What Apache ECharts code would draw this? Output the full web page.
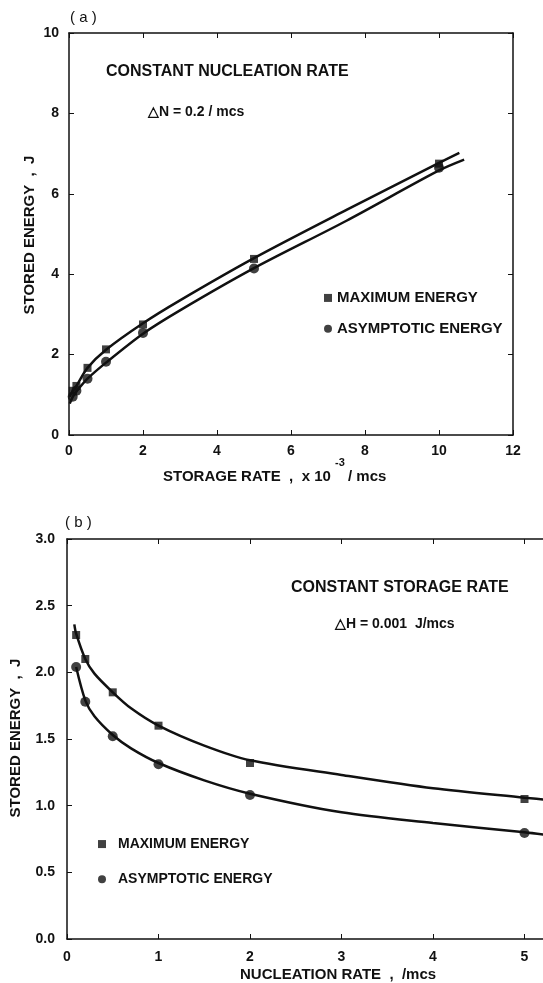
<html>
<head>
    <script src="https://cdn.jsdelivr.net/npm/echarts@6/dist/echarts.min.js"></script>
    <style>
        body { margin: 0; background: #fff; }
        #chart { width: 543px; height: 983px; }
    </style>
</head>
<body>
    <div id="chart"></div>
    <script>
        // (a) constant nucleation rate: measured points
        var rateA = [0.1, 0.2, 0.5, 1, 2, 5, 10];
        var maxA = [1.1, 1.22, 1.67, 2.13, 2.75, 4.38, 6.75];
        var asymA = [0.95, 1.1, 1.4, 1.82, 2.54, 4.14, 6.65];
        // (a) fitted curves
        var curveMaxAX = [0.02, 0.1, 0.2, 0.5, 1, 2, 3, 5, 7.5, 10, 10.55];
        var curveMaxAY = [0.95, 1.1, 1.22, 1.67, 2.12, 2.78, 3.35, 4.4, 5.6, 6.77, 7.02];
        var curveAsymAX = [0.02, 0.1, 0.2, 0.5, 1, 2, 3, 5, 7.5, 10, 10.68];
        var curveAsymAY = [0.78, 0.95, 1.08, 1.4, 1.8, 2.52, 3.1, 4.15, 5.33, 6.58, 6.85];

        // (b) constant storage rate: measured points
        var rateB = [0.1, 0.2, 0.5, 1, 2, 5];
        var maxB = [2.28, 2.1, 1.85, 1.6, 1.32, 1.05];
        var asymB = [2.04, 1.78, 1.52, 1.31, 1.08, 0.795];
        // (b) fitted curves
        var curveMaxBX = [0.08, 0.1, 0.2, 0.3, 0.5, 0.7, 1, 1.5, 2, 3, 4, 5, 5.3];
        var curveMaxBY = [2.36, 2.29, 2.1, 1.99, 1.85, 1.73, 1.6, 1.45, 1.34, 1.23, 1.13, 1.06, 1.04];
        var curveAsymBX = [0.1, 0.2, 0.3, 0.5, 0.7, 1, 1.5, 2, 3, 4, 5, 5.3];
        var curveAsymBY = [2.04, 1.79, 1.67, 1.53, 1.43, 1.32, 1.19, 1.09, 0.95, 0.87, 0.8, 0.775];

        var ticksA_X = [0, 12, 2];
        var ticksA_Y = [0, 10, 2];
        var ticksB_X = [0, 6, 1];
        var ticksB_Y = [0, 3, 0.5];

        function pairs(xs, ys) {
            return xs.map(function (x, i) { return [x, ys[i]]; });
        }

        var ink = '#111';
        var fontFam = '"Liberation Sans", Arial, sans-serif';

        function axisX(grid, t, pos, labels, margin) {
            return {
                type: 'value', gridIndex: grid, position: pos,
                min: t[0], max: t[1], interval: t[2],
                axisLine: { onZero: false, lineStyle: { color: ink, width: 1.5 } },
                axisTick: { show: true, inside: true, length: 5, lineStyle: { color: ink } },
                axisLabel: { show: labels, color: ink, fontFamily: fontFam, fontWeight: 'bold', fontSize: 14, margin: margin },
                splitLine: { show: false }
            };
        }
        function axisY(grid, t, pos, labels, margin, fmt) {
            return {
                type: 'value', gridIndex: grid, position: pos,
                min: t[0], max: t[1], interval: t[2],
                axisLine: { show: true, onZero: false, lineStyle: { color: ink, width: 1.5 } },
                axisTick: { show: true, inside: true, length: 5, lineStyle: { color: ink } },
                axisLabel: { show: labels, color: ink, fontFamily: fontFam, fontWeight: 'bold', fontSize: 14, margin: margin, formatter: fmt },
                splitLine: { show: false }
            };
        }
        function curve(x, y, xi, yi) {
            return {
                type: 'line', xAxisIndex: xi, yAxisIndex: yi, data: pairs(x, y),
                smooth: 0.3, showSymbol: false, silent: true,
                lineStyle: { color: ink, width: 2.5 }
            };
        }
        function dots(name, sym, size, x, y, xi, yi) {
            return {
                name: name, type: 'scatter', xAxisIndex: xi, yAxisIndex: yi,
                symbol: sym, symbolSize: size, data: pairs(x, y),
                itemStyle: { color: ink }
            };
        }
        function txt(x, y, s, size, weight, align, rot) {
            return {
                type: 'text', x: x, y: y, rotation: rot || 0,
                style: { text: s, fill: ink, font: (weight || 'bold') + ' ' + size + 'px ' + fontFam, align: align || 'left', verticalAlign: 'middle' }
            };
        }

        var myChart = echarts.init(document.getElementById('chart'));
        var option = {
            animation: false,
            grid: [
                { left: 69, top: 33, width: 444, height: 402, containLabel: false, outerBoundsMode: 'none' },
                { left: 67, top: 539, width: 549, height: 400, containLabel: false, outerBoundsMode: 'none' }
            ],
            xAxis: [
                axisX(0, ticksA_X, 'bottom', true, 4),
                axisX(0, ticksA_X, 'top', false, 4),
                axisX(1, ticksB_X, 'bottom', true, 6),
                axisX(1, ticksB_X, 'top', false, 6)
            ],
            yAxis: [
                axisY(0, ticksA_Y, 'left', true, 10),
                axisY(0, ticksA_Y, 'right', false, 10),
                axisY(1, ticksB_Y, 'left', true, 12, function (v) { return v.toFixed(1); }),
                axisY(1, ticksB_Y, 'right', false, 12)
            ],
            legend: [
                {
                    left: 324, top: 285, orient: 'vertical', itemWidth: 8, itemHeight: 8, itemGap: 5, padding: 0,
                    selectedMode: false,
                    data: [{ name: 'MAXIMUM ENERGY', icon: 'rect' }, { name: 'ASYMPTOTIC ENERGY', icon: 'circle' }],
                    textStyle: { color: ink, fontFamily: fontFam, fontWeight: 'bold', fontSize: 15 }
                },
                {
                    left: 98, top: 832, orient: 'vertical', itemWidth: 8, itemHeight: 8, itemGap: 11, padding: 0,
                    selectedMode: false,
                    data: [{ name: 'MAXIMUM ENERGY', icon: 'rect' }, { name: 'ASYMPTOTIC ENERGY', icon: 'circle' }],
                    textStyle: { color: ink, fontFamily: fontFam, fontWeight: 'bold', fontSize: 14, padding: [0, 0, 0, 7] }
                }
            ],
            graphic: [
                txt(70, 18, '( a )', 15, 'normal'),
                txt(106, 72, 'CONSTANT NUCLEATION RATE', 16),
                txt(148, 112, '\u25B3N = 0.2 / mcs', 14),
                txt(30, 235, 'STORED ENERGY  ,  J', 15, 'bold', 'center', Math.PI / 2),
                txt(163, 477, 'STORAGE RATE  ,  x 10', 15),
                txt(335, 463, '-3', 11),
                txt(348, 477, '/ mcs', 15),
                txt(65, 523, '( b )', 15, 'normal'),
                txt(291, 588, 'CONSTANT STORAGE RATE', 16),
                txt(335, 624, '\u25B3H = 0.001  J/mcs', 14),
                txt(16, 738, 'STORED ENERGY  ,  J', 15, 'bold', 'center', Math.PI / 2),
                txt(240, 975, 'NUCLEATION RATE  ,  /mcs', 15)
            ],
            series: [
                curve(curveMaxAX, curveMaxAY, 0, 0),
                curve(curveAsymAX, curveAsymAY, 0, 0),
                dots('MAXIMUM ENERGY', 'rect', 8, rateA, maxA, 0, 0),
                dots('ASYMPTOTIC ENERGY', 'circle', 10, rateA, asymA, 0, 0),
                curve(curveMaxBX, curveMaxBY, 2, 2),
                curve(curveAsymBX, curveAsymBY, 2, 2),
                dots('MAXIMUM ENERGY', 'rect', 8, rateB, maxB, 2, 2),
                dots('ASYMPTOTIC ENERGY', 'circle', 10, rateB, asymB, 2, 2)
            ]
        };
        myChart.setOption(option);
        window.onresize = myChart.resize;
    </script>
</body>
</html>
